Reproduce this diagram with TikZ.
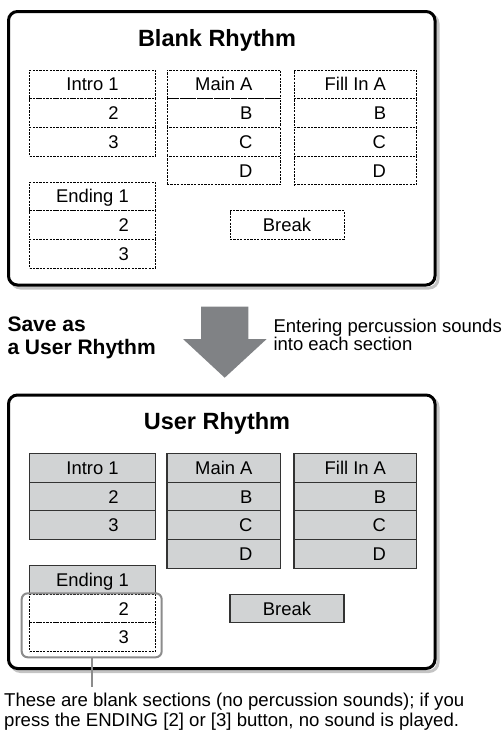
\documentclass[tikz,border=0pt]{standalone}
\usepackage{fontspec}
\setmainfont{Liberation Sans}
\definecolor{cellgray}{HTML}{D1D3D4}
\definecolor{shadowgray}{HTML}{C4C4C4}
\definecolor{arrowgray}{HTML}{808285}
\definecolor{hlgray}{HTML}{8C8C8C}
\tikzset{
  lab/.style={inner sep=0pt, font=\fontsize{18.4}{20}\selectfont, text height=13.2pt, text depth=0pt},
  ttl/.style={inner sep=0pt, font=\bfseries\fontsize{23.5}{26}\selectfont, text height=16.8pt, text depth=0pt},
  dcell/.style={draw=black, line width=0.9pt, dash pattern=on 2.2pt off 1.2pt, fill=white, minimum height=28.7pt, inner sep=0pt},
  scell/.style={draw=black!80, line width=1.1pt, fill=cellgray, minimum height=28.7pt, inner sep=0pt},
  frame/.style={line width=3pt, rounded corners=9pt},
  hl/.style={draw=hlgray, line width=2pt, rounded corners=6pt, inner sep=0pt},
}
% #1 prefix, #2 cell style, #3 style of Ending 2/3, #4 title
\newcommand\rhythmpanel[4]{%
  \draw[frame, shadowgray] (11.5,14.5) rectangle (438,288);
  \draw[frame, fill=white] (8.5,11.5) rectangle (435,285);
  \node[ttl] (#1title) at (217,38) {#4};
  % Intro column
  \node[#2, minimum width=126pt] (#1i1) at (92.5,84.35) {};
  \node[#2, minimum width=126pt] (#1i2) at (92.5,113.05) {};
  \node[#2, minimum width=126pt] (#1i3) at (92.5,141.75) {};
  % Main column
  \node[#2, minimum width=113.7pt] (#1m1) at (223.85,84.35) {};
  \node[#2, minimum width=113.7pt] (#1m2) at (223.85,113.05) {};
  \node[#2, minimum width=113.7pt] (#1m3) at (223.85,141.75) {};
  \node[#2, minimum width=113.7pt] (#1m4) at (223.85,170.45) {};
  % Fill column
  \node[#2, minimum width=122.7pt] (#1f1) at (355.35,84.35) {};
  \node[#2, minimum width=122.7pt] (#1f2) at (355.35,113.05) {};
  \node[#2, minimum width=122.7pt] (#1f3) at (355.35,141.75) {};
  \node[#2, minimum width=122.7pt] (#1f4) at (355.35,170.45) {};
  % Ending column
  \node[#2, minimum width=126pt] (#1e1) at (92.5,196.35) {};
  \node[#3, minimum width=126pt] (#1e2) at (92.5,225.05) {};
  \node[#3, minimum width=126pt] (#1e3) at (92.5,253.75) {};
  % Break
  \node[#2, minimum width=114pt] (#1b) at (287,225) {};
  % labels
  \node[lab] (#1ti1) at (#1i1) {Intro 1};
  \node[lab, anchor=east] (#1ti2) at (#1ti1.east |- #1i2) {2};
  \node[lab, anchor=east] (#1ti3) at (#1ti1.east |- #1i3) {3};
  \node[lab] (#1tm1) at (#1m1) {Main A};
  \node[lab, anchor=east] (#1tm2) at (#1tm1.east |- #1m2) {B};
  \node[lab, anchor=east] (#1tm3) at (#1tm1.east |- #1m3) {C};
  \node[lab, anchor=east] (#1tm4) at (#1tm1.east |- #1m4) {D};
  \node[lab] (#1tf1) at (#1f1) {Fill In A};
  \node[lab, anchor=east] (#1tf2) at (#1tf1.east |- #1f2) {B};
  \node[lab, anchor=east] (#1tf3) at (#1tf1.east |- #1f3) {C};
  \node[lab, anchor=east] (#1tf4) at (#1tf1.east |- #1f4) {D};
  \node[lab] (#1te1) at (#1e1) {Ending 1};
  \node[lab, anchor=east] (#1te2) at (#1te1.east |- #1e2) {2};
  \node[lab, anchor=east] (#1te3) at (#1te1.east |- #1e3) {3};
  \node[lab] (#1tb) at (#1b) {Break};
}
\begin{document}
\begin{tikzpicture}[x=1pt,y=-1pt]
\useasboundingbox (0,0) rectangle (503,731);
% top panel
\rhythmpanel{top}{dcell}{dcell}{Blank Rhythm}
% bottom panel
\begin{scope}[shift={(0,383.5)}]
\rhythmpanel{bot}{scell}{dcell}{User Rhythm}
\end{scope}
% middle arrow
\fill[arrowgray] (201,306.7) -- (248.3,306.7) -- (248.3,339) -- (266.7,339)
  -- (224.7,377.7) -- (183,339) -- (201,339) -- cycle;
\node[inner sep=0pt, anchor=base west, align=left,
  font=\bfseries\fontsize{21}{23}\selectfont] (save) at (7.3,354.5) {Save as\\a User Rhythm};
\node[inner sep=0pt, anchor=base west, align=left,
  font=\fontsize{18.5}{18}\selectfont] (enter) at (273.3,350.7) {Entering percussion sounds\\into each section};
% highlight of blank sections
\node[hl, minimum width=140pt, minimum height=64pt] (hlbox) at (91.7,625.3) {};
\coordinate (lead) at (91.7,686.7);
\draw[hlgray, line width=2pt] (hlbox.south) -- (lead);
\node[inner sep=0pt, anchor=base west, align=left,
  font=\fontsize{18.6}{20}\selectfont] (note) at (4,726.7)
  {These are blank sections (no percussion sounds); if you\\press the ENDING [2] or [3] button, no sound is played.};
\end{tikzpicture}
\end{document}
